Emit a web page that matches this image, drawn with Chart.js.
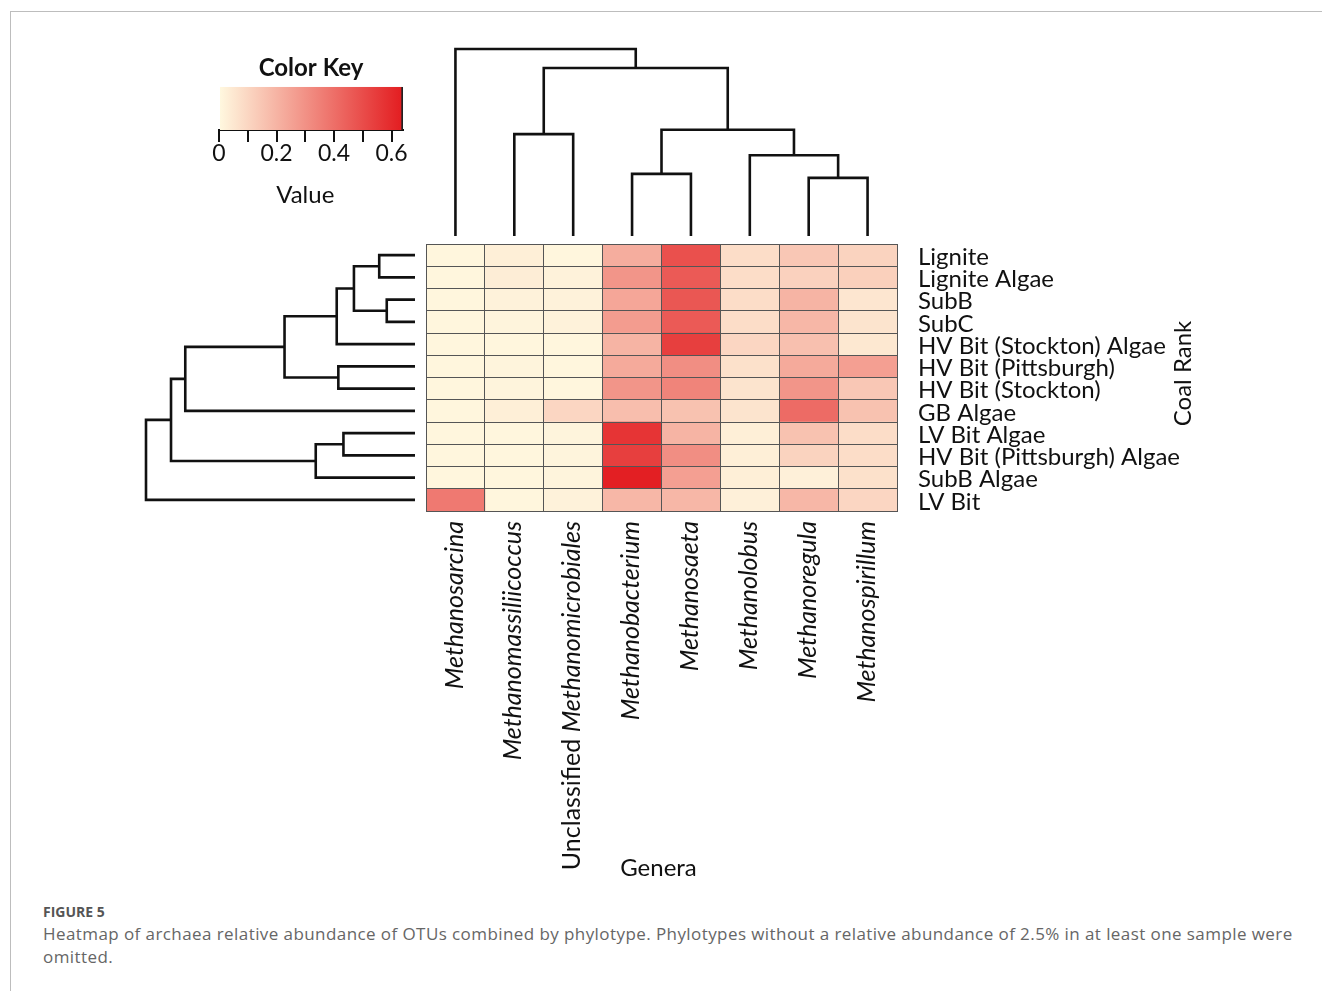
<!DOCTYPE html>
<html>
<head>
<meta charset="utf-8">
<title>Figure 5</title>
<script src="https://cdn.jsdelivr.net/npm/chart.js@4.4.1/dist/chart.umd.min.js"></script>
<style>
  body { margin: 0; background: #fff; }
  #figure { position: relative; width: 1322px; height: 991px; overflow: hidden; background: #fff; }
  #frame { position: absolute; left: 10px; top: 11px; right: -2px; bottom: -2px; border-top: 1px solid #bdbdbd; border-left: 1px solid #bdbdbd; }
  #figure canvas { position: absolute; left: 0; top: 0; }
  .fig-label { position: absolute; left: 43px; top: 902px; font: 700 14px "Open Sans", sans-serif; color: #555; }
  .fig-caption { position: absolute; left: 43px; top: 922px; font: 400 17px/23px "Open Sans", sans-serif; letter-spacing: 0.42px; color: #666; white-space: nowrap; }
</style>
</head>
<body>
<div id="figure">
  <div id="frame"></div>
  <canvas id="key" width="1322" height="890"></canvas>
  <canvas id="colTree" width="1322" height="890"></canvas>
  <canvas id="rowTree" width="1322" height="890"></canvas>
  <canvas id="heat" width="1322" height="890"></canvas>
  <div class="fig-label">FIGURE 5</div>
  <div class="fig-caption">Heatmap of archaea relative abundance of OTUs combined by phylotype. Phylotypes without a relative abundance of 2.5% in at least one sample were<br>omitted.</div>
</div>
<script>
const coalRanks = [
    'Lignite', 'Lignite Algae', 'SubB', 'SubC', 'HV Bit (Stockton) Algae',
    'HV Bit (Pittsburgh)', 'HV Bit (Stockton)', 'GB Algae', 'LV Bit Algae',
    'HV Bit (Pittsburgh) Algae', 'SubB Algae', 'LV Bit',
];
const genera = [
    'Methanosarcina', 'Methanomassiliicoccus', 'Unclassified Methanomicrobiales',
    'Methanobacterium', 'Methanosaeta', 'Methanolobus', 'Methanoregula', 'Methanospirillum',
];

// relative abundance, one value per coal rank (same order as coalRanks)
const methanosarcina = [0.01, 0.01, 0.01, 0.01, 0.01, 0.01, 0.01, 0.01, 0.01, 0.01, 0.01, 0.37];
const methanomassiliicoccus = [0.03, 0.035, 0.02, 0.015, 0.01, 0.015, 0.015, 0.03, 0.01, 0.01, 0.01, 0.01];
const unclassifiedMethanomicrobiales = [0.01, 0.02, 0.02, 0.02, 0.01, 0.01, 0.01, 0.10, 0.015, 0.015, 0.015, 0.02];
const methanobacterium = [0.22, 0.29, 0.24, 0.27, 0.20, 0.23, 0.29, 0.17, 0.57, 0.54, 0.63, 0.19];
const methanosaeta = [0.49, 0.46, 0.47, 0.46, 0.54, 0.31, 0.34, 0.16, 0.20, 0.31, 0.26, 0.19];
const methanolobus = [0.08, 0.08, 0.08, 0.08, 0.10, 0.07, 0.06, 0.06, 0.03, 0.03, 0.03, 0.025];
const methanoregula = [0.145, 0.115, 0.20, 0.19, 0.165, 0.23, 0.29, 0.41, 0.16, 0.11, 0.025, 0.19];
const methanospirillum = [0.11, 0.12, 0.055, 0.06, 0.05, 0.26, 0.145, 0.16, 0.08, 0.08, 0.07, 0.10];

const abundance = [
    methanosarcina, methanomassiliicoccus, unclassifiedMethanomicrobiales, methanobacterium,
    methanosaeta, methanolobus, methanoregula, methanospirillum,
];

// color key
const keyMax = 0.64;
const keyTicks = [0, 0.1, 0.2, 0.3, 0.4, 0.5, 0.6];
const keyTickLabels = ['0', '', '0.2', '', '0.4', '', '0.6'];
const keyLow = [255, 249, 224];
const keyHigh = [227, 28, 32];

// hclust-style merges: negative = leaf (1-based), positive = earlier merge row
const colMerge = [[-7, -8], [-4, -5], [-6, 1], [-2, -3], [2, 3], [4, 5], [-1, 6]];
const colHeight = [0.311, 0.332, 0.432, 0.545, 0.568, 0.898, 1.0];
const rowMerge = [[-3, -4], [-1, -2], [2, 1], [-9, -10], [-6, -7], [3, -5], [4, -11], [6, 5], [8, -8], [9, 7], [10, -12]];
const rowHeight = [0.105, 0.133, 0.227, 0.266, 0.285, 0.291, 0.369, 0.485, 0.854, 0.907, 1.0];

const FONT = 'Lato, "Open Sans", sans-serif';
Chart.defaults.font.family = FONT;
Chart.defaults.color = '#111';

const W = 1322;
const H = 890;
// heatmap box on the page
const heatBox = { left: 426, right: 897, top: 244, bottom: 511 };
const gridColor = '#555';

const rgb = (c) => `rgb(${c.map(Math.round).join(',')})`;

const heatColor = (value) => {
    const t = Math.max(0, Math.min(1, value / keyMax));
    return rgb(keyLow.map((lo, i) => lo + (keyHigh[i] - lo) * t));
};

const treeLinks = (merge, height) => {
    const nodes = [];
    const at = (ref) => (ref < 0 ? { pos: -ref - 0.5, h: 0 } : nodes[ref - 1]);
    return merge.map(([a, b], i) => {
        const l = at(a);
        const r = at(b);
        const h = height[i];
        nodes.push({ pos: (l.pos + r.pos) / 2, h });
        return [[l.pos, l.h], [l.pos, h], [r.pos, h], [r.pos, r.h]];
    });
};

const lineStyle = {
    showLine: true,
    borderColor: '#111',
    borderWidth: 2.6,
    pointRadius: 0,
    borderJoinStyle: 'miter',
    borderCapStyle: 'butt',
    tension: 0,
    clip: false,
};

const baseOptions = {
    responsive: false,
    animation: false,
    devicePixelRatio: 1,
    events: [],
    plugins: { legend: { display: false }, tooltip: { enabled: false } },
};

// column dendrogram
new Chart(document.getElementById('colTree'), {
    type: 'scatter',
    data: {
        datasets: treeLinks(colMerge, colHeight).map((pts) => ({
            ...lineStyle,
            data: pts.map(([p, h]) => ({ x: p, y: h })),
        })),
    },
    options: {
        ...baseOptions,
        layout: { padding: { left: heatBox.left, right: W - heatBox.right, top: 49, bottom: H - 236 } },
        scales: {
            x: { type: 'linear', min: 0, max: genera.length, display: false },
            y: { type: 'linear', min: 0, max: 1, display: false },
        },
    },
});

// row dendrogram
new Chart(document.getElementById('rowTree'), {
    type: 'scatter',
    data: {
        datasets: treeLinks(rowMerge, rowHeight).map((pts) => ({
            ...lineStyle,
            data: pts.map(([p, h]) => ({ x: h, y: p })),
        })),
    },
    options: {
        ...baseOptions,
        layout: { padding: { left: 146, right: W - 415, top: heatBox.top, bottom: H - heatBox.bottom } },
        scales: {
            x: { type: 'linear', min: 0, max: 1, reverse: true, display: false },
            y: { type: 'linear', min: 0, max: coalRanks.length, reverse: true, display: false },
        },
    },
});

const keyValueTitle = {
    id: 'keyValueTitle',
    afterDraw(chart) {
        const { ctx, chartArea, scales: { x } } = chart;
        const mid = (x.getPixelForValue(keyTicks[0]) + x.getPixelForValue(keyTicks[keyTicks.length - 1])) / 2;
        ctx.save();
        ctx.fillStyle = '#111';
        ctx.font = `24px ${FONT}`;
        ctx.textAlign = 'center';
        ctx.textBaseline = 'middle';
        ctx.fillText('Value', mid, chartArea.bottom + 65);
        ctx.restore();
    },
};

// color key
new Chart(document.getElementById('key'), {
    type: 'bar',
    data: {
        labels: ['Value'],
        datasets: [{
            data: [keyMax],
            barPercentage: 1,
            categoryPercentage: 1,
            borderSkipped: false,
            borderWidth: { right: 2, left: 0, top: 0, bottom: 0 },
            borderColor: '#222',
            backgroundColor: (c) => {
                const { chart } = c;
                const x = chart.scales.x;
                if (!chart.chartArea || !x) {
                    return rgb(keyHigh);
                }
                const g = chart.ctx.createLinearGradient(x.getPixelForValue(0), 0, x.getPixelForValue(keyMax), 0);
                g.addColorStop(0, rgb(keyLow));
                g.addColorStop(1, rgb(keyHigh));
                return g;
            },
        }],
    },
    options: {
        ...baseOptions,
        indexAxis: 'y',
        layout: { padding: { left: 219, right: W - 403, top: 54, bottom: H - 130 - 80 } },
        plugins: {
            ...baseOptions.plugins,
            title: {
                display: true,
                text: 'Color Key',
                color: '#111',
                font: { size: 24, weight: 'bold' },
                padding: { top: 0, bottom: 4 },
            },
        },
        scales: {
            x: {
                type: 'linear',
                min: 0,
                max: keyMax,
                afterBuildTicks: (s) => { s.ticks = keyTicks.map((v) => ({ value: v })); },
                afterFit: (s) => { s.height = 80; },
                ticks: {
                    callback: (v, i) => keyTickLabels[i],
                    font: { size: 23 },
                    color: '#111',
                    padding: -2,
                    maxRotation: 0,
                    autoSkip: false,
                },
                grid: { drawOnChartArea: false, drawTicks: true, tickLength: 12, color: '#111', lineWidth: 2 },
                border: { display: true, color: '#111', width: 2 },
            },
            y: { display: false },
        },
    },
    plugins: [keyValueTitle],
});

const heatLabels = {
    id: 'heatLabels',
    afterDraw(chart) {
        const { ctx, chartArea, scales: { x } } = chart;
        ctx.save();
        ctx.fillStyle = '#111';
        ctx.textBaseline = 'middle';
        ctx.textAlign = 'left';
        genera.forEach((name, j) => {
            const parts = name.startsWith('Unclassified ')
                ? [['Unclassified ', false], [name.slice(13), true]]
                : [[name, true]];
            const fonts = parts.map(([, it]) => `${it ? 'italic ' : ''}25px ${FONT}`);
            const widths = parts.map(([t], k) => {
                ctx.font = fonts[k];
                return ctx.measureText(t).width;
            });
            ctx.save();
            ctx.translate(x.getPixelForValue(j + 0.5) - 1, chartArea.bottom + 10);
            ctx.rotate(-Math.PI / 2);
            let pos = -widths.reduce((a, b) => a + b, 0);
            parts.forEach(([t], k) => {
                ctx.font = fonts[k];
                ctx.fillText(t, pos, 0);
                pos += widths[k];
            });
            ctx.restore();
        });

        ctx.textAlign = 'center';
        ctx.font = `24px ${FONT}`;
        ctx.fillText('Genera', (chartArea.left + chartArea.right) / 2 - 3, chartArea.bottom + 357);

        ctx.save();
        ctx.translate(chartArea.right + 286, (chartArea.top + chartArea.bottom) / 2 - 4);
        ctx.rotate(-Math.PI / 2);
        ctx.font = `24px ${FONT}`;
        ctx.fillText('Coal Rank', 0, 0);
        ctx.restore();
        ctx.restore();
    },
};

// heatmap: each row is a stack of unit-width cells, colored by abundance
const rowAxisWidth = 300;
new Chart(document.getElementById('heat'), {
    type: 'bar',
    data: {
        labels: coalRanks,
        datasets: genera.map((g, j) => ({
            label: g,
            data: coalRanks.map(() => 1),
            backgroundColor: abundance[j].map(heatColor),
            borderWidth: 0,
            barPercentage: 1,
            categoryPercentage: 1,
        })),
    },
    options: {
        ...baseOptions,
        indexAxis: 'y',
        layout: {
            padding: {
                left: heatBox.left,
                right: W - heatBox.right - rowAxisWidth,
                top: heatBox.top,
                bottom: H - heatBox.bottom,
            },
        },
        scales: {
            x: {
                type: 'linear',
                stacked: true,
                min: 0,
                max: genera.length,
                ticks: { display: false, stepSize: 1 },
                grid: { z: 1, color: gridColor, lineWidth: 1, drawTicks: false },
                border: { z: 1, display: true, color: gridColor, width: 1 },
            },
            y: {
                position: 'right',
                stacked: true,
                afterFit: (s) => { s.width = rowAxisWidth; },
                grid: { z: 1, offset: true, color: gridColor, lineWidth: 1, drawTicks: false },
                border: { z: 1, display: true, color: gridColor, width: 1 },
                ticks: { font: { size: 24 }, color: '#111', padding: 21, labelOffset: 2, autoSkip: false },
            },
        },
    },
    plugins: [heatLabels],
});
</script>
</body>
</html>
